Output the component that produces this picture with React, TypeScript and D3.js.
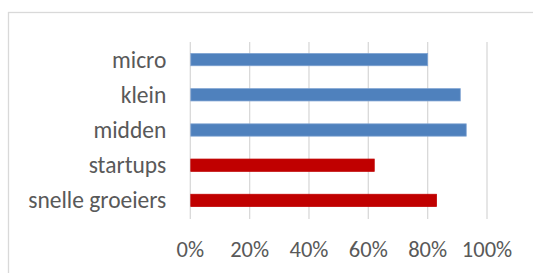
import React from "react";
import * as d3 from "d3";

const width = 533;
const height = 273;

const categories = ["micro", "klein", "midden", "startups", "snelle groeiers"];
const values = [0.8, 0.91, 0.93, 0.62, 0.83];
const groups = ["grootte", "grootte", "grootte", "type", "type"];
const ticks = [0, 0.2, 0.4, 0.6, 0.8, 1];

const margin = { top: 42, right: 46, bottom: 55, left: 190.3 };
const font = "Carlito, Lato, 'Open Sans', sans-serif";

const App = () => {
  const x = d3
    .scaleLinear()
    .domain([0, 1])
    .range([margin.left, width - margin.right]);

  const y = d3
    .scaleBand()
    .domain(categories)
    .range([margin.top, height - margin.bottom])
    .paddingInner(0.65)
    .paddingOuter(0.325);

  const color = d3.scaleOrdinal().domain(["grootte", "type"]).range(["#4F81BD", "#C00000"]);
  const stroke = d3.scaleOrdinal().domain(["grootte", "type"]).range(["#7EA2D2", "#C00000"]);

  const fmt = d3.format(".0%");

  return (
    <svg width={width} height={height} style={{ position: "absolute", left: 0, top: 0 }}>
      {/* chart frame, only top and left edges fall inside the picture */}
      <rect x={8.5} y={12.5} width={width + 20} height={height + 20} fill="#fff" stroke="#D9D9D9" strokeWidth={1.3} />

      {/* gridlines */}
      {ticks.map((t) => (
        <line
          key={t}
          x1={x(t)}
          x2={x(t)}
          y1={margin.top}
          y2={height - margin.bottom + 1}
          stroke="#D9D9D9"
          strokeWidth={1.3}
        />
      ))}

      {/* bars */}
      {categories.map((c, i) => (
        <rect
          key={c}
          x={x(0) + 0.5}
          y={y(c)}
          width={x(values[i]) - x(0) - 0.5}
          height={y.bandwidth()}
          fill={color(groups[i])}
          stroke={stroke(groups[i])}
          strokeWidth={0.75}
        />
      ))}

      {/* category labels */}
      {categories.map((c) => (
        <text
          key={c}
          x={x(0) - 24}
          y={y(c) + y.bandwidth() / 2}
          dy="0.34em"
          textAnchor="end"
          fontFamily={font}
          fontSize={23.5}
          fill="#595959"
        >
          {c}
        </text>
      ))}

      {/* tick labels */}
      {ticks.map((t) => (
        <text
          key={t}
          x={x(t)}
          y={256.5}
          textAnchor="middle"
          fontFamily={font}
          fontSize={22.5}
          fill="#595959"
        >
          {fmt(t)}
        </text>
      ))}
    </svg>
  );
};

export default App;
